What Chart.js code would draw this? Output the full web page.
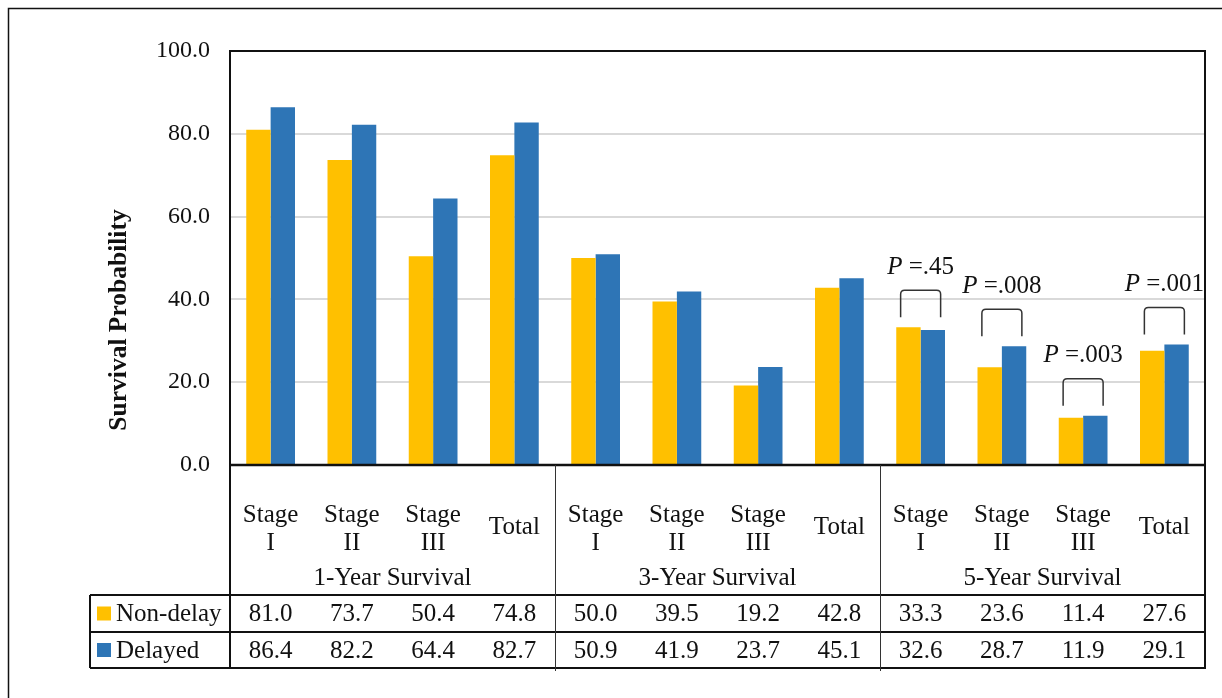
<!DOCTYPE html>
<html>
<head>
<meta charset="utf-8">
<title>Survival Probability by Stage</title>
<script src="https://cdn.jsdelivr.net/npm/chart.js@4.4.1/dist/chart.umd.min.js"></script>
<style>
  html, body { margin: 0; padding: 0; background: #ffffff; }
  canvas { display: block; }
</style>
</head>
<body>
<canvas id="chart" width="1222" height="698"></canvas>
<script>
// Category labels (two-line stage labels, repeated for each survival period)
const stageLabels = [['Stage', 'I'], ['Stage', 'II'], ['Stage', 'III'], ['Total']];
const periods = ['1-Year Survival', '3-Year Survival', '5-Year Survival'];
const categories = periods.flatMap(p => stageLabels.map(s => p + ' ' + s.join(' ')));

// Survival probabilities (%)
const nonDelay = [81.0, 73.7, 50.4, 74.8, 50.0, 39.5, 19.2, 42.8, 33.3, 23.6, 11.4, 27.6];
const delayed  = [86.4, 82.2, 64.4, 82.7, 50.9, 41.9, 23.7, 45.1, 32.6, 28.7, 11.9, 29.1];

// P values for the 5-year comparisons
const pValues = [null, null, null, null, null, null, null, null, '.45', '.008', '.003', '.001'];

// Y axis ticks
const yTicks = [0, 20, 40, 60, 80, 100];

const seriesNames = ['Non-delay', 'Delayed'];
const seriesColors = ['#FFC000', '#2E75B6'];

const SERIF = "'Liberation Serif', 'Times New Roman', serif";
const INK = '#111111';

const tablePlugin = {
  id: 'survivalTable',
  afterDraw(chart) {
    const { ctx, chartArea: a, scales: { x, y } } = chart;
    const n = categories.length;
    const step = x.getPixelForValue(1) - x.getPixelForValue(0);
    const headerBottom = a.bottom + 130;
    const row1Bottom = headerBottom + 37;
    const row2Bottom = row1Bottom + 36;
    const legendLeft = 90;

    ctx.save();

    // outer frame
    ctx.strokeStyle = '#111';
    ctx.lineWidth = 1.5;
    ctx.beginPath();
    ctx.moveTo(8.5, chart.height);
    ctx.lineTo(8.5, 8.5);
    ctx.lineTo(chart.width, 8.5);
    ctx.stroke();

    // plot frame
    ctx.strokeStyle = '#111';
    ctx.lineWidth = 2;
    ctx.strokeRect(a.left, a.top, a.right - a.left, a.bottom - a.top);
    ctx.lineWidth = 2.5;
    ctx.beginPath();
    ctx.moveTo(a.left - 1, a.bottom);
    ctx.lineTo(a.right + 1, a.bottom);
    ctx.stroke();

    // table outline
    ctx.lineWidth = 2;
    ctx.beginPath();
    ctx.moveTo(a.left, a.bottom);
    ctx.lineTo(a.left, row2Bottom);
    ctx.moveTo(a.right, a.bottom);
    ctx.lineTo(a.right, row2Bottom);
    ctx.moveTo(legendLeft, headerBottom);
    ctx.lineTo(a.right + 1, headerBottom);
    ctx.moveTo(legendLeft, row1Bottom);
    ctx.lineTo(a.right + 1, row1Bottom);
    ctx.moveTo(legendLeft, row2Bottom);
    ctx.lineTo(a.right + 1, row2Bottom);
    ctx.moveTo(legendLeft, headerBottom);
    ctx.lineTo(legendLeft, row2Bottom);
    ctx.stroke();

    // period separators
    ctx.lineWidth = 1;
    ctx.strokeStyle = '#333';
    ctx.beginPath();
    for (let g = 1; g < periods.length; g++) {
      const sx = Math.round(x.getPixelForValue(g * stageLabels.length) - step / 2) + 0.5;
      ctx.moveTo(sx, a.bottom);
      ctx.lineTo(sx, row2Bottom + 3);
    }
    ctx.stroke();

    // header labels
    ctx.fillStyle = INK;
    ctx.font = '25px ' + SERIF;
    ctx.textAlign = 'center';
    ctx.textBaseline = 'middle';
    for (let i = 0; i < n; i++) {
      const cx = x.getPixelForValue(i);
      const lines = stageLabels[i % stageLabels.length];
      if (lines.length === 1) {
        ctx.fillText(lines[0], cx, a.bottom + 62);
      } else {
        ctx.fillText(lines[0], cx, a.bottom + 50);
        ctx.fillText(lines[1], cx, a.bottom + 78);
      }
    }
    periods.forEach((p, g) => {
      const first = x.getPixelForValue(g * stageLabels.length);
      const last = x.getPixelForValue((g + 1) * stageLabels.length - 1);
      ctx.fillText(p, (first + last) / 2, a.bottom + 113);
    });

    // data rows
    [nonDelay, delayed].forEach((vals, r) => {
      const cy = r === 0 ? (headerBottom + row1Bottom) / 2 : (row1Bottom + row2Bottom) / 2;
      vals.forEach((v, i) => {
        ctx.fillText(v.toFixed(1), x.getPixelForValue(i), cy + 1);
      });
      ctx.fillStyle = seriesColors[r];
      ctx.fillRect(97, cy - 7, 14, 14);
      ctx.fillStyle = INK;
      ctx.textAlign = 'left';
      ctx.fillText(seriesNames[r], 116, cy + 1);
      ctx.textAlign = 'center';
    });

    // y axis title
    ctx.save();
    ctx.translate(119, 320);
    ctx.rotate(-Math.PI / 2);
    ctx.font = 'bold 25.5px ' + SERIF;
    ctx.fillText('Survival Probability', 0, 0);
    ctx.restore();

    // p value brackets
    ctx.strokeStyle = '#333';
    ctx.lineWidth = 1.5;
    pValues.forEach((p, i) => {
      if (!p) return;
      const cx = x.getPixelForValue(i);
      const bottom = y.getPixelForValue(Math.max(nonDelay[i], delayed[i])) - 10;
      const top = bottom - 27;
      const hw = 20, rad = 4;
      ctx.beginPath();
      ctx.moveTo(cx - hw, bottom);
      ctx.lineTo(cx - hw, top + rad);
      ctx.quadraticCurveTo(cx - hw, top, cx - hw + rad, top);
      ctx.lineTo(cx + hw - rad, top);
      ctx.quadraticCurveTo(cx + hw, top, cx + hw, top + rad);
      ctx.lineTo(cx + hw, bottom);
      ctx.stroke();

      const ty = top - 23;
      ctx.font = 'italic 25px ' + SERIF;
      const wP = ctx.measureText('P').width;
      ctx.font = '25px ' + SERIF;
      const rest = ' =' + p;
      const wR = ctx.measureText(rest).width;
      const startX = cx - (wP + wR) / 2;
      ctx.textAlign = 'left';
      ctx.font = 'italic 25px ' + SERIF;
      ctx.fillText('P', startX, ty);
      ctx.font = '25px ' + SERIF;
      ctx.fillText(rest, startX + wP, ty);
      ctx.textAlign = 'center';
    });

    ctx.restore();
  }
};

new Chart(document.getElementById('chart'), {
  type: 'bar',
  data: {
    labels: categories,
    datasets: [
      { label: seriesNames[0], data: nonDelay, backgroundColor: seriesColors[0] },
      { label: seriesNames[1], data: delayed, backgroundColor: seriesColors[1] }
    ]
  },
  options: {
    responsive: false,
    animation: false,
    devicePixelRatio: 1,
    layout: { padding: { left: 10, top: 51, right: 17, bottom: 233 } },
    datasets: { bar: { categoryPercentage: 0.6, barPercentage: 1.0 } },
    plugins: {
      legend: { display: false },
      tooltip: { enabled: false },
      title: { display: false }
    },
    scales: {
      x: { display: false },
      y: {
        min: 0,
        max: 100,
        afterBuildTicks(scale) { scale.ticks = yTicks.map(v => ({ value: v })); },
        afterFit(scale) { scale.width = 220; },
        border: { display: false },
        grid: {
          color: '#D9D9D9',
          lineWidth: 2,
          drawTicks: false
        },
        ticks: {
          padding: 20,
          color: INK,
          font: { family: SERIF, size: 24 },
          callback: v => v.toFixed(1)
        }
      }
    }
  },
  plugins: [tablePlugin]
});
</script>
</body>
</html>
